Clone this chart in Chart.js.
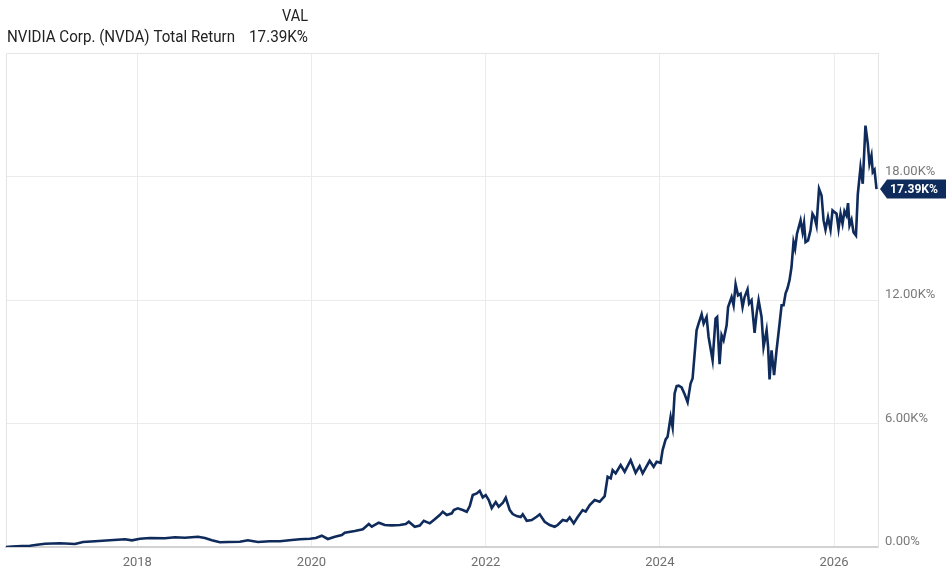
<!DOCTYPE html>
<html>
<head>
<meta charset="utf-8">
<script src="https://cdn.jsdelivr.net/npm/chart.js@4.4.1/dist/chart.umd.min.js"></script>
<style>
  html, body { margin: 0; padding: 0; background: #fff; }
  #wrap { width: 952px; height: 582px; position: relative; }
</style>
</head>
<body>
<div id="wrap"><canvas id="chart"></canvas></div>
<script>
// dates as fractional years, values in % total return
const years = [
  2016.493, 2016.562, 2016.677, 2016.769, 2016.849, 2016.941, 2017.113, 2017.285, 2017.377, 2017.515,
  2017.687, 2017.859, 2017.939, 2018.031, 2018.146, 2018.318, 2018.433, 2018.547, 2018.697, 2018.777,
  2018.857, 2018.949, 2019.041, 2019.178, 2019.270, 2019.385, 2019.523, 2019.637, 2019.775, 2019.867,
  2019.982, 2020.050, 2020.119, 2020.188, 2020.269, 2020.349, 2020.383, 2020.498, 2020.590, 2020.659,
  2020.693, 2020.773, 2020.842, 2020.923, 2021.014, 2021.083, 2021.118, 2021.186, 2021.244, 2021.290,
  2021.359, 2021.416, 2021.473, 2021.508, 2021.554, 2021.611, 2021.634, 2021.680, 2021.737, 2021.783,
  2021.818, 2021.852, 2021.898, 2021.932, 2021.967, 2022.001, 2022.036, 2022.070, 2022.116, 2022.150,
  2022.196, 2022.231, 2022.277, 2022.311, 2022.357, 2022.403, 2022.426, 2022.472, 2022.529, 2022.586,
  2022.621, 2022.678, 2022.736, 2022.793, 2022.827, 2022.885, 2022.931, 2022.965, 2023.011, 2023.057,
  2023.114, 2023.149, 2023.195, 2023.252, 2023.309, 2023.367, 2023.401, 2023.436, 2023.458, 2023.493,
  2023.550, 2023.596, 2023.665, 2023.722, 2023.768, 2023.803, 2023.883, 2023.929, 2023.963, 2024.009,
  2024.032, 2024.067, 2024.089, 2024.124, 2024.147, 2024.170, 2024.193, 2024.216, 2024.250, 2024.285,
  2024.319, 2024.353, 2024.376, 2024.422, 2024.445, 2024.480, 2024.503, 2024.537, 2024.560, 2024.606,
  2024.640, 2024.658, 2024.686, 2024.709, 2024.732, 2024.767, 2024.784, 2024.824, 2024.847, 2024.870,
  2024.898, 2024.927, 2024.950, 2024.973, 2025.007, 2025.025, 2025.053, 2025.088, 2025.111, 2025.134,
  2025.168, 2025.191, 2025.226, 2025.243, 2025.260, 2025.283, 2025.312, 2025.340, 2025.375, 2025.398,
  2025.421, 2025.444, 2025.466, 2025.489, 2025.512, 2025.535, 2025.553, 2025.575, 2025.616, 2025.639,
  2025.656, 2025.673, 2025.702, 2025.730, 2025.753, 2025.776, 2025.799, 2025.828, 2025.857, 2025.880,
  2025.902, 2025.931, 2025.960, 2025.983, 2026.006, 2026.029, 2026.052, 2026.075, 2026.098, 2026.120,
  2026.143, 2026.161, 2026.178, 2026.201, 2026.224, 2026.252, 2026.273, 2026.304, 2026.330, 2026.361,
  2026.388, 2026.407, 2026.430, 2026.445, 2026.465, 2026.488
];

const totalReturn = [
  0, 24, 49, 63, 112, 160, 180, 146, 243, 277,
  325, 374, 325, 403, 437, 422, 471, 451, 500, 437,
  325, 228, 243, 257, 325, 243, 277, 277, 340, 374,
  403, 437, 548, 388, 500, 582, 694, 776, 859, 1116,
  985, 1179, 1067, 1053, 1067, 1116, 1228, 985, 1043, 1276,
  1150, 1344, 1553, 1713, 1553, 1635, 1795, 1878, 1795, 1713,
  1989, 2523, 2606, 2732, 2411, 2523, 2280, 1892, 2183, 1955,
  2135, 2392, 1795, 1601, 1504, 1456, 1587, 1276, 1310, 1470,
  1587, 1228, 1067, 985, 1067, 1310, 1262, 1441, 1150, 1456,
  1795, 1722, 2038, 2280, 2198, 2475, 3411, 3333, 3736, 3576,
  3979, 3654, 4221, 3605, 3930, 3576, 4187, 3896, 4139, 4090,
  4706, 5226, 5352, 6322, 5808, 7458, 7812, 7836, 7749, 7424,
  7036, 7943, 8185, 10529, 10854, 11305, 10854, 11174, 10204, 9073,
  11097, 11174, 8879, 10286, 10044, 10771, 11659, 12145, 11742, 12761,
  12227, 12310, 11659, 12145, 12518, 11824, 11984, 10398, 11339, 11984,
  11174, 9719, 10529, 9719, 8137, 9558, 8345, 9558, 10854, 11742,
  11742, 12324, 12567, 12955, 13600, 14813, 14493, 15221, 15866, 15298,
  15735, 14813, 14896, 15381, 16191, 16026, 15623, 17404, 17079, 15866,
  15415, 16026, 15415, 16351, 16269, 16191, 15463, 16191, 15706, 16318,
  16108, 16706, 15623, 15900, 15298, 15138, 17128, 18438, 17647, 20475,
  19588, 18617, 19020, 18210, 18326, 17390
];

const xTicks = [2018, 2020, 2022, 2024, 2026];
const yTicks = [0, 6000, 12000, 18000];
const seriesName = "NVIDIA Corp. (NVDA) Total Return";
const lastLabel = "17.39K%";

const navy = "#0f2b5b";

function fmtPct(v) {
  if (v === 0) return "0.00%";
  return (v / 1000).toFixed(2) + "K%";
}

// header text + frame + end-value badge
const decorations = {
  id: "decorations",
  beforeDatasetsDraw(chart) {
    const { ctx, chartArea: a } = chart;
    ctx.save();
    ctx.strokeStyle = "#e4e4e4";
    ctx.lineWidth = 1;
    ctx.beginPath();
    ctx.moveTo(a.left + 0.5, a.bottom);
    ctx.lineTo(a.left + 0.5, a.top + 0.5);
    ctx.lineTo(a.right, a.top + 0.5);
    ctx.stroke();
    ctx.restore();
  },
  afterDraw(chart) {
    const { ctx } = chart;
    ctx.save();
    ctx.fillStyle = "#222";
    ctx.font = "17px Roboto";
    ctx.textBaseline = "alphabetic";
    ctx.textAlign = "right";
    ctx.fillText("VAL", 308, 21, 26);
    ctx.fillText(lastLabel, 308, 42, 59);
    ctx.textAlign = "left";
    ctx.fillText(seriesName, 7, 42, 228);

    // badge on the right axis
    const y = chart.scales.y.getPixelForValue(totalReturn[totalReturn.length - 1]);
    const x0 = 880, x1 = 946, h = 19;
    ctx.fillStyle = navy;
    ctx.beginPath();
    ctx.moveTo(x0, y);
    ctx.lineTo(x0 + 7, y - h / 2);
    ctx.lineTo(x1, y - h / 2);
    ctx.lineTo(x1, y + h / 2);
    ctx.lineTo(x0 + 7, y + h / 2);
    ctx.closePath();
    ctx.fill();
    ctx.fillStyle = "#fff";
    ctx.font = "bold 13px Roboto";
    ctx.textAlign = "left";
    ctx.textBaseline = "middle";
    ctx.fillText(lastLabel, 890, y + 0.5, 48);
    ctx.restore();
  }
};

new Chart(document.getElementById("chart"), {
  type: "line",
  plugins: [decorations],
  data: {
    datasets: [{
      label: seriesName,
      data: years.map((t, i) => ({ x: t, y: totalReturn[i] })),
      borderColor: navy,
      borderWidth: 2.6,
      pointRadius: 0,
      tension: 0,
      fill: false
    }]
  },
  options: {
    responsive: true,
    maintainAspectRatio: false,
    animation: false,
    layout: { padding: { top: 53, left: 6, right: 0, bottom: 0 } },
    plugins: {
      legend: { display: false },
      tooltip: { enabled: false }
    },
    scales: {
      x: {
        type: "linear",
        min: 2016.493,
        max: 2026.505,
        afterBuildTicks: (s) => { s.ticks = xTicks.map(v => ({ value: v })); },
        afterFit: (s) => { s.height = 35; },
        grid: { color: "#ebebeb", drawTicks: false },
        border: { display: true, color: "#d2d2d2", width: 2 },
        ticks: {
          color: "#6e6e6e",
          font: { family: "Roboto", size: 13 },
          padding: 8,
          maxRotation: 0,
          callback: (v) => String(v)
        }
      },
      y: {
        position: "right",
        min: 0,
        max: 24000,
        afterBuildTicks: (s) => { s.ticks = yTicks.map(v => ({ value: v })); },
        afterFit: (s) => { s.width = 74; },
        grid: { color: "#ebebeb", drawTicks: false },
        border: { display: true, color: "#e4e4e4", width: 1 },
        ticks: {
          color: "#7a7a7a",
          font: { family: "Roboto", size: 13 },
          padding: 7,
          labelOffset: -5,
          callback: (v) => fmtPct(v)
        }
      }
    }
  }
});
</script>
</body>
</html>
